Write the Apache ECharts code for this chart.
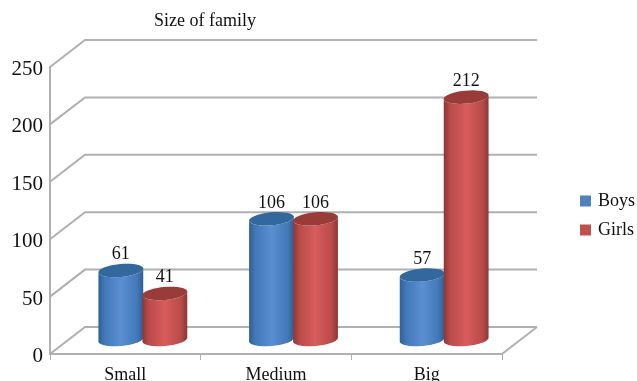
<!DOCTYPE html>
<html>
<head>
<meta charset="utf-8">
<style>html,body{margin:0;padding:0;background:#fff}#chart{width:637px;height:381px}</style>
<script src="https://cdn.jsdelivr.net/npm/echarts@6/dist/echarts.min.js"></script>
</head>
<body>
<div id="chart"></div>
<script>
// Family size by gender
const categories = ['Small', 'Medium', 'Big'];
const boys = [61, 106, 57];
const girls = [41, 106, 212];
const yTicks = [0, 50, 100, 150, 200, 250];

// Oblique projection used for the box and the cylinders
const DEPTH_X = 35;
const DEPTH_Y = -27;
const RADIUS_X = 22.5;
const RADIUS_Y = 6.5;
const TILT = 0.09;
const FONT = '"Liberation Serif", "Times New Roman", serif';
const WALL = '#b0b0b0';

function ellipsePoint(cx, cy, angle) {
  const px = RADIUS_X * Math.cos(angle);
  const py = RADIUS_Y * Math.sin(angle);
  return [cx + px * Math.cos(TILT) + py * Math.sin(TILT),
          cy - px * Math.sin(TILT) + py * Math.cos(TILT)];
}

function ellipseArc(cx, cy, from, to) {
  const pts = [];
  for (let i = 0; i <= 40; i++) {
    pts.push(ellipsePoint(cx, cy, from + (to - from) * i / 40));
  }
  return pts;
}

function cylinder(side, palette) {
  return function (params, api) {
    const cat = api.value(0);
    const val = api.value(1);
    const top = api.coord([cat, val]);
    const base = api.coord([cat, 0]);
    const cx = top[0] + DEPTH_X / 2 + side * 22;
    const yTop = top[1] + DEPTH_Y / 2;
    const yBase = base[1] + DEPTH_Y / 2 - 1;
    const upper = ellipseArc(cx, yTop, Math.PI, 0);
    const lower = ellipseArc(cx, yBase, 0, Math.PI);
    const fill = new echarts.graphic.LinearGradient(0, 0, 1, 0, [
      { offset: 0, color: palette.edge },
      { offset: 0.14, color: palette.shade },
      { offset: 0.5, color: palette.light },
      { offset: 0.86, color: palette.shade },
      { offset: 1, color: palette.edge }
    ]);
    return {
      type: 'group',
      children: [
        { type: 'polygon', shape: { points: upper.concat(lower) }, style: { fill: fill } },
        { type: 'polygon', shape: { points: ellipseArc(cx, yTop, 0, Math.PI * 2) }, style: { fill: palette.cap } },
        {
          type: 'text',
          style: {
            x: cx, y: yTop - 16, text: String(val), fill: '#111',
            font: '18px ' + FONT, align: 'center', verticalAlign: 'middle'
          }
        }
      ]
    };
  };
}

function wallLine(params, api) {
  const val = api.value(1);
  const y = api.coord([0, val])[1];
  const rect = params.coordSys;
  const style = { stroke: WALL, lineWidth: 2, fill: 'none' };
  const left = rect.x;
  const right = rect.x + rect.width;
  const children = [{
    type: 'polyline',
    shape: { points: [[left, y], [left + DEPTH_X, y + DEPTH_Y], [right + DEPTH_X, y + DEPTH_Y]] },
    style: style
  }];
  if (val === 0) {
    children.push({
      type: 'polyline',
      shape: { points: [[right, y], [right + DEPTH_X, y + DEPTH_Y]] },
      style: style
    });
  }
  return { type: 'group', children: children };
}

const bluePalette = { edge: '#2f5f96', shade: '#4279b8', light: '#5a8fd2', cap: '#33689f' };
const redPalette = { edge: '#8c3634', shade: '#b84b49', light: '#d85c5b', cap: '#983b39' };

const chart = echarts.init(document.getElementById('chart'), null, { renderer: 'canvas' });
chart.setOption({
  animation: false,
  backgroundColor: '#fff',
  title: {
    text: 'Size of family',
    left: 149,
    top: 7,
    textStyle: { fontFamily: FONT, fontSize: 18, fontWeight: 'normal', color: '#111' }
  },
  legend: {
    data: ['Boys', 'Girls'],
    orient: 'vertical',
    icon: 'rect',
    left: 575,
    top: 187,
    itemWidth: 11,
    itemHeight: 11,
    itemGap: 11,
    textStyle: { fontFamily: FONT, fontSize: 18, color: '#111', padding: [0, 0, 0, 2] }
  },
  grid: { left: 50, right: 135, top: 67, bottom: 27, outerBoundsMode: 'none' },
  xAxis: {
    type: 'category',
    data: categories,
    axisLine: { lineStyle: { color: WALL, width: 2 } },
    axisTick: { show: true, length: 6, lineStyle: { color: WALL, width: 1 } },
    axisLabel: { fontFamily: FONT, fontSize: 18, color: '#111', margin: 12 }
  },
  yAxis: {
    type: 'value',
    min: 0,
    max: 250,
    interval: 50,
    axisLine: { show: true, lineStyle: { color: WALL, width: 2 } },
    axisTick: { show: false },
    splitLine: { show: false },
    axisLabel: {
      margin: 7,
      formatter: '{n|{value}}',
      rich: { n: { fontFamily: FONT, fontSize: 21, color: '#111', padding: [5, 0, 0, 0] } }
    }
  },
  series: [
    {
      name: 'Walls',
      type: 'custom',
      z: 1,
      silent: true,
      data: yTicks.map(v => [0, v]),
      encode: { x: 0, y: 1 },
      renderItem: wallLine
    },
    {
      name: 'Boys',
      type: 'custom',
      z: 2,
      itemStyle: { color: '#4f81bd' },
      data: boys.map((v, i) => [i, v]),
      encode: { x: 0, y: 1 },
      renderItem: cylinder(-1, bluePalette)
    },
    {
      name: 'Girls',
      type: 'custom',
      z: 3,
      itemStyle: { color: '#c0504d' },
      data: girls.map((v, i) => [i, v]),
      encode: { x: 0, y: 1 },
      renderItem: cylinder(1, redPalette)
    }
  ]
});
</script>
</body>
</html>
